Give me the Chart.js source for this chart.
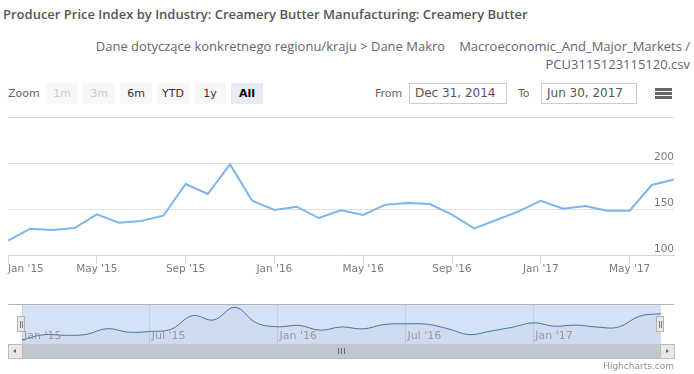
<!DOCTYPE html>
<html>
<head>
<meta charset="utf-8">
<script src="https://cdn.jsdelivr.net/npm/chart.js@4.4.1/dist/chart.umd.min.js"></script>
<style>
  body { margin: 0; width: 694px; height: 374px; overflow: hidden; background: #fff; position: relative; font-family: "DejaVu Sans", sans-serif; }
  .abs { position: absolute; }
  #title { left: 3px; top: 5px; font: 600 13px "Open Sans", sans-serif; color: #555; white-space: nowrap; }
  #subtitle { right: 4px; top: 37px; font: 13px/18px "Open Sans", sans-serif; color: #666; text-align: right; white-space: nowrap; }
  #subtitle .gap { display: inline-block; width: 14px; }
  .rs-label { top: 83px; height: 21px; line-height: 21px; font-size: 11px; color: #666; }
  .rs-btn { top: 83px; width: 32px; height: 21px; line-height: 21px; font-size: 11px; text-align: center; background: #f7f7f7; color: #333; }
  .rs-btn.off { color: #ccc; }
  .rs-btn.on { background: #e6ebf5; color: #000; font-weight: bold; }
  .rs-input { top: 83px; height: 19px; line-height: 19px; border: 1px solid #ccc; font-size: 12px; color: #555; padding-left: 5px; box-sizing: content-box; }
  .burger { left: 655px; width: 17px; height: 3px; background: #666; }
  .line { background: #b2b1b6; height: 1px; }
  .handle { width: 6px; height: 14px; background: #ebe7e8; border: 1px solid #b2b1b6; }
  .handle i { position: absolute; top: 4px; width: 1px; height: 7px; background: #777; }
  .sb-btn { top: 344px; width: 13px; height: 13px; background: #ebe7e8; border: 1px solid #bbb; }
  #credit { right: 20px; top: 361px; font-size: 9px; color: #909090; }
</style>
</head>
<body>
<div id="title" class="abs">Producer Price Index by Industry: Creamery Butter Manufacturing: Creamery Butter</div>
<div id="subtitle" class="abs">Dane dotyczące konkretnego regionu/kraju &gt; Dane Makro<span class="gap"></span>Macroeconomic_And_Major_Markets /<br>PCU3115123115120.csv</div>

<div class="abs rs-label" style="left:8px">Zoom</div>
<div class="abs rs-btn off" style="left:46px">1m</div>
<div class="abs rs-btn off" style="left:83px">3m</div>
<div class="abs rs-btn" style="left:120px">6m</div>
<div class="abs rs-btn" style="left:157px">YTD</div>
<div class="abs rs-btn" style="left:194px">1y</div>
<div class="abs rs-btn on" style="left:231px">All</div>

<div class="abs rs-label" style="left:375px">From</div>
<div class="abs rs-input" style="left:409px;width:91px">Dec 31, 2014</div>
<div class="abs rs-label" style="left:518px">To</div>
<div class="abs rs-input" style="left:541px;width:89px">Jun 30, 2017</div>
<div class="abs burger" style="top:88px"></div>
<div class="abs burger" style="top:92px"></div>
<div class="abs burger" style="top:96px"></div>

<canvas id="mainChart" class="abs" style="left:0;top:110px" width="694" height="170"></canvas>
<canvas id="navChart" class="abs" style="left:0;top:300px" width="694" height="46"></canvas>

<div class="abs line" style="left:8px;top:304px;width:666px"></div>
<div class="abs handle" style="left:17px;top:316px"><i style="left:2px"></i><i style="left:4px"></i></div>
<div class="abs handle" style="left:656px;top:316px"><i style="left:2px"></i><i style="left:4px"></i></div>

<div class="abs" style="left:22px;top:344px;width:639px;height:14px;background:#bfc8d1"></div>
<div class="abs" style="left:338px;top:348px;width:1px;height:6px;background:#666"></div>
<div class="abs" style="left:341px;top:348px;width:1px;height:6px;background:#666"></div>
<div class="abs" style="left:344px;top:348px;width:1px;height:6px;background:#666"></div>
<div class="abs sb-btn" style="left:8px"><div class="abs" style="left:4px;top:4px;width:0;height:0;border-top:2.5px solid transparent;border-bottom:2.5px solid transparent;border-right:3px solid #666"></div></div>
<div class="abs sb-btn" style="left:660px"><div class="abs" style="left:5px;top:4px;width:0;height:0;border-top:2.5px solid transparent;border-bottom:2.5px solid transparent;border-left:3px solid #666"></div></div>
<div class="abs line" style="left:8px;top:358px;width:666px;background:#bbb"></div>

<div id="credit" class="abs">Highcharts.com</div>

<script>
const monthLabels = [
  "Jan '15", "Feb '15", "Mar '15", "Apr '15", "May '15", "Jun '15", "Jul '15", "Aug '15", "Sep '15", "Oct '15", "Nov '15", "Dec '15",
  "Jan '16", "Feb '16", "Mar '16", "Apr '16", "May '16", "Jun '16", "Jul '16", "Aug '16", "Sep '16", "Oct '16", "Nov '16", "Dec '16",
  "Jan '17", "Feb '17", "Mar '17", "Apr '17", "May '17", "Jun '17", "Jul '17"
];

const ppiValues = [
  115.5, 128.6, 127.2, 129.3, 144.1, 135.1, 137.0, 142.7, 177.2, 166.3, 198.5, 159.0,
  148.9, 152.5, 140.2, 148.5, 143.5, 154.7, 156.5, 155.4, 143.8, 128.9, 138.0, 147.4,
  159.0, 150.3, 153.3, 148.2, 148.2, 176.1, 182.2
];

const mainTickMonths = ["Jan '15", "May '15", "Sep '15", "Jan '16", "May '16", "Sep '16", "Jan '17", "May '17"];
const navTickMonths = ["Jan '15", "Jul '15", "Jan '16", "Jul '16", "Jan '17"];
const yGridValues = [100, 150, 200, 250];
const yLabelValues = [100, 150, 200];

const points = ppiValues.map((v, i) => ({ x: i, y: v }));

const mainLabels = {
  id: "mainLabels",
  afterDraw(chart) {
    const { ctx, scales: { x, y } } = chart;
    ctx.save();
    ctx.font = "10.5px 'DejaVu Sans'";
    ctx.fillStyle = "#7a7a7a";
    ctx.textBaseline = "middle";
    x.ticks.forEach((t, i) => {
      ctx.textAlign = i === 0 ? "left" : "center";
      ctx.fillText(monthLabels[t.value], x.getPixelForValue(t.value), y.bottom + 14);
    });
    ctx.textAlign = "right";
    yLabelValues.forEach(v => {
      ctx.fillText(String(v), x.right, y.getPixelForValue(v) - 6);
    });
    ctx.restore();
  }
};

new Chart(document.getElementById("mainChart"), {
  type: "line",
  data: {
    datasets: [{
      data: points,
      borderColor: "#7cb5ec",
      borderWidth: 2,
      pointRadius: 0,
      tension: 0,
      fill: false
    }]
  },
  options: {
    responsive: false,
    animation: false,
    layout: { padding: { left: 8, right: 20, top: 7, bottom: 16 } },
    plugins: { legend: { display: false }, tooltip: { enabled: false } },
    scales: {
      x: {
        type: "linear",
        min: 0,
        max: monthLabels.length - 1,
        afterBuildTicks: axis => { axis.ticks = mainTickMonths.map(m => ({ value: monthLabels.indexOf(m) })); },
        ticks: { display: false },
        grid: { drawOnChartArea: false, drawTicks: true, tickLength: 9, color: "#ccd6eb" },
        border: { color: "#ccd6eb" }
      },
      y: {
        position: "right",
        min: 100,
        max: 250,
        afterBuildTicks: axis => { axis.ticks = yGridValues.map(v => ({ value: v })); },
        ticks: { display: false },
        grid: {
          drawTicks: false,
          color: ctx => (ctx.tick && ctx.tick.value === 100) ? "rgba(0,0,0,0)" : "#e0e0e0"
        },
        border: { display: false }
      }
    }
  },
  plugins: [mainLabels]
});

const navPainter = {
  id: "navPainter",
  beforeDraw(chart) {
    const { ctx, chartArea: a } = chart;
    ctx.save();
    ctx.fillStyle = "#d5e1f4";
    ctx.fillRect(a.left, a.top, a.right - a.left, a.bottom - a.top);
    ctx.restore();
  },
  afterDraw(chart) {
    const { ctx, scales: { x } } = chart;
    ctx.save();
    ctx.font = "11px 'DejaVu Sans'";
    ctx.fillStyle = "#999";
    ctx.textAlign = "left";
    ctx.textBaseline = "middle";
    navTickMonths.forEach(m => {
      ctx.fillText(m, x.getPixelForValue(monthLabels.indexOf(m)) + 2, 36);
    });
    ctx.restore();
  }
};

new Chart(document.getElementById("navChart"), {
  type: "line",
  data: {
    datasets: [{
      data: points,
      borderColor: "#4572a7",
      borderWidth: 1,
      backgroundColor: "rgba(69,114,167,0.05)",
      fill: "start",
      pointRadius: 0,
      tension: 0.4
    }]
  },
  options: {
    responsive: false,
    animation: false,
    layout: { padding: { left: 22, right: 33, top: 4, bottom: 2 } },
    plugins: { legend: { display: false }, tooltip: { enabled: false } },
    scales: {
      x: {
        type: "linear",
        min: 0,
        max: monthLabels.length - 1,
        afterBuildTicks: axis => { axis.ticks = navTickMonths.map(m => ({ value: monthLabels.indexOf(m) })); },
        ticks: { display: false },
        grid: { drawTicks: false, color: "#c4cee0" },
        border: { display: false }
      },
      y: { display: false, min: 105, max: 207 }
    }
  },
  plugins: [navPainter]
});
</script>
</body>
</html>
